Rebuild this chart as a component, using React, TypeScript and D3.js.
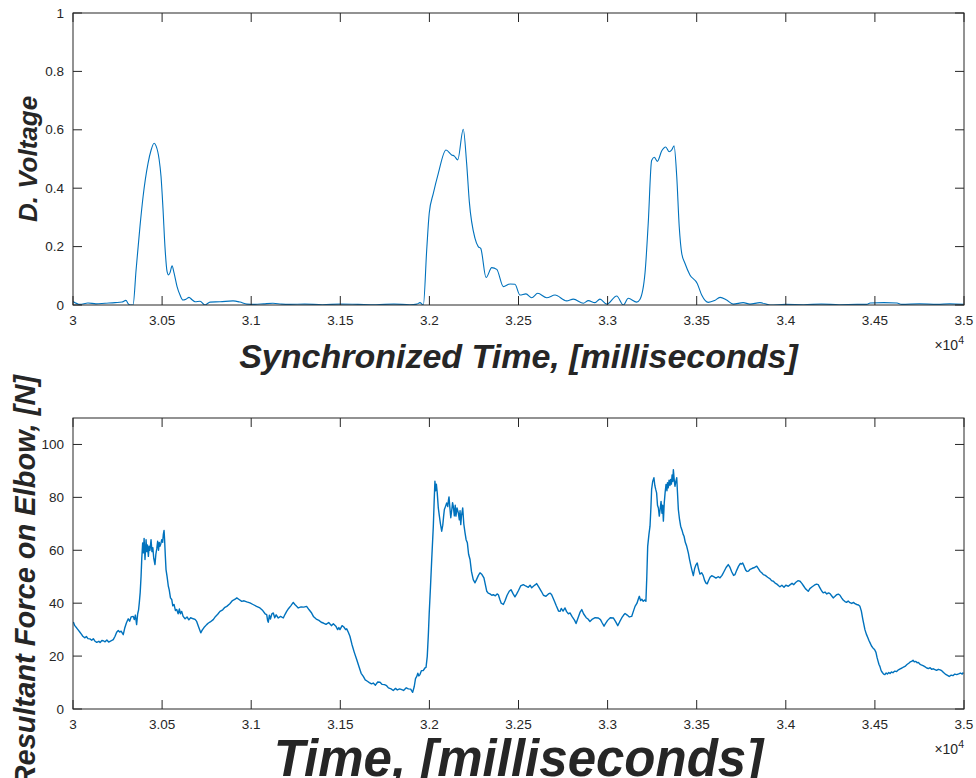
import React from "react";
import * as d3 from "d3";

// ---------- data ----------
const voltageTime: number[] = [30000,30039,30084,30129,30180,30236,30275,30297,30309,30320,30337,30354,30376,30393,30421,30438,30455,30466,30483,30494,30505,30516,30528,30536,30544,30556,30567,30584,30600,30617,30634,30651,30668,30685,30713,30741,30769,30825,30898,30937,30976,31021,31070,31122,31170,31218,31300,31400,31500,31600,31700,31800,31891,31930,31947,31966,31985,31999,32022,32050,32093,32125,32140,32159,32190,32209,32224,32256,32274,32288,32318,32350,32378,32415,32452,32480,32508,32542,32574,32608,32658,32705,32770,32808,32864,32892,32929,32957,32995,33051,33088,33116,33163,33182,33210,33228,33247,33262,33279,33304,33326,33345,33360,33373,33388,33402,33416,33434,33462,33503,33528,33565,33600,33631,33668,33705,33761,33799,33855,33911,34000,34100,34200,34300,34400,34454,34473,34550,34624,34650,34750,34850,34920,35000];
const voltageValue: number[] = [0.012,0.002,0.007,0.004,0.006,0.008,0.010,0.016,0.005,0.0,0.0,0.12,0.27,0.37,0.485,0.53,0.554,0.545,0.50,0.44,0.33,0.20,0.114,0.103,0.11,0.134,0.11,0.063,0.035,0.017,0.02,0.026,0.018,0.011,0.013,0.0,0.010,0.011,0.014,0.01,0.003,0.002,0.004,0.006,0.003,0.002,0.003,0.001,0.003,0.002,0.001,0.003,0.001,0.003,0.008,0.0,0.19,0.314,0.382,0.451,0.531,0.514,0.51,0.497,0.602,0.485,0.354,0.228,0.20,0.194,0.094,0.128,0.122,0.063,0.072,0.071,0.034,0.038,0.025,0.04,0.025,0.034,0.014,0.02,0.006,0.015,0.008,0.02,0.003,0.031,0.0,0.023,0.01,0.02,0.11,0.28,0.495,0.506,0.492,0.528,0.541,0.525,0.531,0.545,0.44,0.268,0.177,0.143,0.103,0.074,0.034,0.009,0.015,0.026,0.017,0.003,0.008,0.003,0.008,0.0,0.002,0.001,0.003,0.001,0.002,0.002,0.007,0.008,0.007,0.002,0.004,0.002,0.004,0.002];

const forceTime: number[] = [30002,30010,30021,30030,30039,30048,30055,30067,30075,30084,30095,30105,30114,30124,30133,30145,30152,30162,30170,30180,30190,30200,30208,30218,30226,30236,30245,30254,30262,30270,30282,30290,30300,30310,30318,30326,30338,30344,30350,30357,30363,30368,30372,30377,30382,30386,30391,30395,30399,30404,30410,30414,30418,30423,30427,30432,30438,30443,30448,30453,30460,30465,30470,30475,30480,30484,30488,30493,30498,30503,30507,30511,30514,30518,30522,30528,30535,30540,30547,30554,30560,30567,30575,30582,30590,30597,30603,30610,30618,30629,30640,30650,30660,30675,30685,30694,30705,30717,30725,30735,30750,30760,30770,30787,30800,30812,30825,30840,30850,30863,30880,30895,30910,30919,30930,30947,30960,30975,30993,31010,31030,31049,31065,31078,31087,31092,31096,31102,31108,31116,31124,31132,31140,31152,31165,31180,31190,31199,31210,31222,31236,31245,31255,31264,31280,31295,31311,31325,31337,31349,31365,31380,31393,31405,31420,31435,31450,31461,31475,31485,31492,31498,31510,31520,31530,31536,31545,31554,31565,31578,31592,31605,31617,31629,31640,31652,31663,31675,31685,31697,31710,31723,31735,31748,31760,31770,31785,31797,31810,31820,31833,31845,31855,31870,31882,31895,31906,31915,31922,31929,31935,31941,31947,31955,31965,31975,31981,31988,31994,31999,32006,32013,32022,32027,32031,32035,32039,32044,32050,32056,32062,32069,32075,32080,32084,32090,32097,32103,32107,32110,32115,32120,32126,32130,32134,32140,32145,32149,32155,32162,32168,32172,32176,32180,32187,32193,32200,32206,32213,32220,32228,32236,32246,32256,32265,32275,32284,32295,32306,32314,32322,32330,32340,32350,32359,32370,32380,32387,32395,32403,32415,32425,32436,32448,32458,32470,32480,32490,32500,32512,32527,32540,32555,32565,32574,32585,32595,32602,32615,32628,32640,32654,32668,32678,32686,32700,32712,32725,32733,32740,32750,32761,32770,32780,32789,32800,32815,32823,32832,32845,32855,32865,32880,32890,32901,32915,32930,32948,32960,32970,32980,32990,33000,33015,33032,33045,33057,33068,33080,33090,33098,33110,33122,33135,33145,33154,33165,33172,33178,33185,33192,33200,33208,33215,33220,33225,33232,33238,33243,33247,33253,33260,33265,33270,33275,33280,33285,33290,33295,33300,33305,33309,33313,33318,33323,33328,33333,33336,33340,33345,33350,33354,33358,33362,33366,33369,33374,33378,33383,33388,33392,33397,33403,33410,33418,33424,33429,33436,33444,33453,33460,33466,33473,33481,33488,33496,33503,33510,33518,33528,33536,33545,33552,33559,33566,33575,33584,33595,33608,33620,33631,33642,33652,33665,33677,33687,33697,33707,33715,33725,33735,33745,33752,33758,33766,33775,33783,33790,33800,33812,33825,33837,33847,33856,33865,33874,33885,33898,33912,33920,33930,33940,33950,33960,33967,33978,33990,34000,34014,34025,34035,34045,34055,34068,34080,34090,34100,34110,34118,34126,34135,34148,34160,34172,34182,34190,34198,34205,34210,34220,34230,34240,34248,34257,34266,34275,34285,34295,34304,34313,34322,34332,34341,34350,34360,34370,34380,34388,34398,34408,34416,34424,34432,34438,34444,34452,34460,34466,34473,34481,34490,34498,34506,34512,34518,34523,34528,34535,34542,34549,34556,34563,34570,34578,34585,34593,34601,34610,34622,34632,34642,34652,34660,34669,34680,34690,34698,34706,34714,34722,34730,34737,34744,34752,34760,34770,34780,34791,34800,34810,34818,34828,34837,34846,34856,34866,34875,34885,34895,34905,34917,34928,34938,34948,34959,34970,34980,34990,34996];
const forceValue: number[] = [32.9,31.5,30.6,29.8,29.0,28.2,27.5,26.9,27.4,26.6,26.5,26.0,26.6,25.6,25.2,25.6,25.1,25.9,25.8,25.4,26.1,25.3,25.6,25.9,26.2,27.5,29.0,29.7,29.1,29.4,28.1,30.5,32.6,34.1,33.2,34.8,35.0,33.8,35.5,31.9,36.0,37.5,40.1,44.0,50.2,57.0,62.8,59.0,64.5,56.5,64,59.5,62.0,57.7,61.5,60.0,64,59.5,61.0,57.0,54.6,58.5,60.5,63.4,60.0,63.0,61.5,62.5,64,63.0,66.0,67.5,64.0,58.0,52.7,50.0,46.4,45.0,42.0,41.4,39.0,39.5,37.2,37.6,36.0,37.8,36.0,36.9,35.0,34.1,34.8,33.7,34.5,34.1,33.9,33.1,31.0,28.8,29.8,30.8,31.9,32.5,32.9,33.8,35.0,35.8,36.9,37.5,38.3,38.8,39.8,41.0,41.5,42,41.5,40.7,40.9,40.5,40.1,39.5,38.8,38.2,37.2,36.0,35.7,33.5,32.8,35.5,34.0,36.0,36.3,34.5,35.6,34.4,35.0,34.4,35.8,36.9,38.0,39.0,40.3,39.5,38.8,38.2,38.6,38.5,38.8,37.5,36.5,35,34.0,33.5,32.8,32.5,32.0,32.7,31.5,32.2,31.3,30.0,30.8,30,31.5,31.0,30.0,30.3,29.0,27.5,24.5,21.5,18.7,16.0,13.5,12.3,11.0,10.5,10.0,9.5,9.8,9.0,10.2,10.1,9.3,9.2,8.8,8.0,7.6,7.0,7.8,7.2,7.6,7.3,7.0,8.0,7.6,7.5,6.3,8.5,11.5,12.3,13.5,12.5,13,14.5,14.5,15.5,15.7,19.9,28.0,36.3,46.0,56.5,69.1,79.0,86.1,82.5,85.0,81.7,76.0,72.9,70.0,67.2,69.5,73.0,75.4,76.5,77.9,76.5,79.0,80.2,76.0,72.3,75.5,78.0,76.7,73.0,77.0,72.9,76.0,74.2,71.5,75.0,69.7,73.0,76,70.0,66.6,64.0,62.8,58.5,56.5,52.0,48.9,47.7,49.0,50.5,51.5,50.8,49.6,47.0,44.5,43.8,43.5,43.0,43.2,42.8,43.5,43.2,41.5,40.0,39.5,41.0,43.0,44.5,45.1,43.5,42.4,43.5,44.8,46.5,47,46.5,46.0,46.8,45.8,46.5,47.0,47.4,46.0,44.5,43.0,42.6,43.5,43.8,43.2,41.0,39.0,37.0,36.9,38.0,37.0,38.2,36.8,36.0,36.3,35.0,33.5,32.3,34.0,36.5,37.6,36.0,34.5,34.0,33.1,34.0,34.5,34.4,33.8,32.5,31.3,32.5,33.5,34.5,34.4,33.0,31.5,33.0,34.5,35.5,36.1,35.5,34.8,35.0,37.0,38.8,40.0,41.5,42.6,41.0,41.5,40.7,41.2,40.7,50.0,61.5,66.0,69.1,76.0,83,86.0,87.4,84.5,83.0,81.7,77.0,76.0,72.9,75.5,78.5,74.0,77.0,71,78.0,82.0,84.9,82.5,85.5,83.6,86.5,84.5,86.8,85.0,88.5,86.0,90.5,86.5,84.2,86.0,87.4,82.0,75.4,72.0,69.1,67.5,66.0,65.3,63.0,61.5,59,56.5,54.6,52.5,50.4,53.0,54.5,55.2,53.0,51.0,51.5,50.5,48.5,47.6,47.3,48.5,49.8,50.4,50.0,49.5,50.0,49.6,50.5,51.8,53.5,54.6,53.5,51.8,50.5,50.8,52.5,54.0,55.0,54.8,55.2,54.0,52.5,52.0,52.1,52.8,53.2,53.5,54,53.0,52.0,51.5,50.8,50.5,49.8,49.2,48.5,48.3,47.6,47.2,46.6,46.2,46.8,46.0,46.8,46.4,47.0,47.5,47.0,47.8,48.5,48.3,47.5,46.5,45.5,45.0,44.5,45.5,46.2,46.8,47.2,47,46.0,45.0,44.3,43.9,44.2,43.5,43.9,43.6,42.8,42,42.5,43.2,43.4,43,42.0,41.2,40.6,40.3,40.8,40.2,39.9,40.3,39.8,39.5,39.3,38.8,37.0,34.0,32.0,30,28.3,27.0,26.0,25,23.8,23.0,22.5,21.4,19.5,18.0,16.8,16.1,14.5,13.8,13.2,13,13.6,13.2,13.8,13.4,14.0,13.7,14.3,14.2,14.8,15.2,15.5,15.8,16.1,16.8,17.3,17.8,18,18.4,17.8,18.0,17.5,17.6,17.0,16.7,16.4,16.0,15.5,15.3,15.6,15.0,15.2,14.9,14.6,15.0,14.8,14.5,13.8,13.2,12.8,12.3,12.8,12.6,13.2,13,13.3,13.6,13.2,13.8];

const xTicks: number[] = [30000,30500,31000,31500,32000,32500,33000,33500,34000,34500,35000];
const xTickLabels: string[] = ["3","3.05","3.1","3.15","3.2","3.25","3.3","3.35","3.4","3.45","3.5"];
const voltTicks: number[] = [0,0.2,0.4,0.6,0.8,1];
const voltTickLabels: string[] = ["0","0.2","0.4","0.6","0.8","1"];
const forceTicks: number[] = [0,20,40,60,80,100];
const forceTickLabels: string[] = ["0","20","40","60","80","100"];

const LINE = "#0072BD";
const AX = "#262626";
const FONT = "'Liberation Sans', Arial, Helvetica, sans-serif";

type PanelProps = {
  times: number[];
  values: number[];
  yDomain: [number, number];
  yTicks: number[];
  yLabels: string[];
  top: number;
  bottom: number;
  smooth: boolean;
  strokeW: number;
};

const LEFT = 73;
const RIGHT = 964;
const TICK = 9;

function Panel({ times, values, yDomain, yTicks, yLabels, top, bottom, smooth, strokeW }: PanelProps) {
  const x = d3.scaleLinear().domain([30000, 35000]).range([LEFT, RIGHT]);
  const y = d3.scaleLinear().domain(yDomain).range([bottom, top]);
  const pts: [number, number][] = times.map((t, i) => [t, values[i]]);
  const line = d3
    .line<[number, number]>()
    .x((d) => x(d[0]))
    .y((d) => y(d[1]))
    .curve(smooth ? d3.curveMonotoneX : d3.curveLinear);
  return (
    <g>
      <defs>
        <clipPath id={`clip${top}`}>
          <rect x={LEFT} y={top} width={RIGHT - LEFT} height={bottom - top} />
        </clipPath>
      </defs>
      <path d={line(pts) || ""} fill="none" stroke={LINE} strokeWidth={strokeW} strokeLinejoin="round" clipPath={`url(#clip${top})`} />
      <rect x={LEFT} y={top} width={RIGHT - LEFT} height={bottom - top} fill="none" stroke={AX} strokeWidth={1} />
      {xTicks.map((t, i) => (
        <g key={"x" + i}>
          <line x1={x(t)} x2={x(t)} y1={bottom} y2={bottom - TICK} stroke={AX} />
          <line x1={x(t)} x2={x(t)} y1={top} y2={top + TICK} stroke={AX} />
          <text x={x(t)} y={bottom + 20} textAnchor="middle" fontSize={13.5} fill={AX} fontFamily={FONT}>
            {xTickLabels[i]}
          </text>
        </g>
      ))}
      {yTicks.map((v, i) => (
        <g key={"y" + i}>
          <line x1={LEFT} x2={LEFT + TICK} y1={y(v)} y2={y(v)} stroke={AX} />
          <line x1={RIGHT} x2={RIGHT - TICK} y1={y(v)} y2={y(v)} stroke={AX} />
          <text x={LEFT - 9} y={y(v) + 4.5} textAnchor="end" fontSize={13.5} fill={AX} fontFamily={FONT}>
            {yLabels[i]}
          </text>
        </g>
      ))}
      <text x={RIGHT} y={bottom + 45} textAnchor="end" fontSize={14} fill={AX} fontFamily={FONT}>
        ×10<tspan dy={-6} fontSize={10.5}>4</tspan>
      </text>
    </g>
  );
}

export default function App() {
  return (
    <div style={{ position: "absolute", left: 0, top: 0 }}>
      <svg width={976} height={778} style={{ display: "block", background: "#fff" }}>
        <Panel times={voltageTime} values={voltageValue} yDomain={[0, 1]} yTicks={voltTicks} yLabels={voltTickLabels} top={13} bottom={305} smooth={true} strokeW={1.1} />
        <Panel times={forceTime} values={forceValue} yDomain={[0, 110]} yTicks={forceTicks} yLabels={forceTickLabels} top={418} bottom={709} smooth={false} strokeW={1.4} />
        <text x={518.5} y={368} textAnchor="middle" fontSize={34} fontWeight="bold" fontStyle="italic" fill={AX} fontFamily={FONT}>
          Synchronized Time, [milliseconds]
        </text>
        <text x={518.5} y={776} textAnchor="middle" fontSize={51} fontWeight="bold" fontStyle="italic" fill={AX} fontFamily={FONT}>
          Time, [milliseconds]
        </text>
        <text transform="translate(37,159) rotate(-90)" textAnchor="middle" fontSize={26} fontWeight="bold" fontStyle="italic" fill={AX} fontFamily={FONT}>
          D. Voltage
        </text>
        <text transform="translate(35,375) rotate(-90)" textAnchor="end" fontSize={29} fontWeight="bold" fontStyle="italic" fill={AX} fontFamily={FONT}>
          Resultant Force on Elbow, [N]
        </text>
      </svg>
    </div>
  );
}
